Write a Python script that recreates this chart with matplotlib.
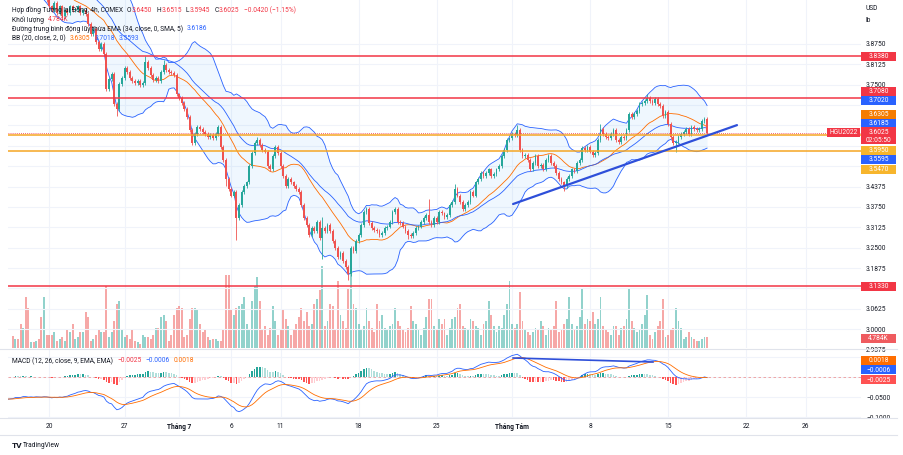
import numpy as np
import pandas as pd
import matplotlib
matplotlib.use("Agg")
import matplotlib.pyplot as plt
from matplotlib.patches import Rectangle
from matplotlib.lines import Line2D
from matplotlib.transforms import blended_transform_factory, Bbox, TransformedBbox

plt.rcParams['font.family'] = ['Roboto', 'DejaVu Sans']

# bars before 20 Jun, off-screen, only used to seed EMA / BB / MACD
warmup_close = [4.40, 4.41, 4.38, 4.36, 4.37, 4.33, 4.30, 4.31, 4.28, 4.26,
                4.27, 4.24, 4.22, 4.23, 4.25, 4.21, 4.19, 4.20, 4.17, 4.15,
                4.16, 4.18, 4.15, 4.13, 4.14, 4.12, 4.10, 4.11, 4.13, 4.11]

# HGU2022 4h closes
close = [
    4.10, 4.12, 4.09, 4.08, 4.10, 4.07, 4.05, 4.06, 4.04, 4.05, 4.03, 4.02, 4.03, 4.01,
    3.99, 3.98, 4.00, 3.97, 3.99, 3.96, 3.98, 3.97, 3.99, 3.98,
    3.98, 3.99, 3.97, 3.98,
    3.966, 3.935, 3.905, 3.92, 3.88, 3.86,
    3.875, 3.845,
    3.737,
    3.767, 3.783, 3.69, 3.675, 3.752,
    3.77, 3.80, 3.79, 3.77, 3.76, 3.755, 3.76, 3.75, 3.755, 3.82, 3.80,
    3.78, 3.765, 3.77, 3.76, 3.79, 3.81, 3.795, 3.79, 3.785, 3.78,
    3.72, 3.71, 3.695, 3.675, 3.65, 3.61,
    3.57, 3.60, 3.62, 3.615, 3.605, 3.60, 3.59, 3.595, 3.585, 3.60, 3.62,
    3.56, 3.52, 3.46, 3.43, 3.41, 3.42, 3.34, 3.38, 3.42, 3.44,
    3.45, 3.50, 3.54, 3.57, 3.58, 3.565,
    3.55, 3.545, 3.50, 3.49, 3.53, 3.56, 3.54, 3.50, 3.47,
    3.44, 3.46, 3.45, 3.44, 3.43, 3.42,
    3.38, 3.34, 3.32, 3.29, 3.31, 3.30, 3.33,
    3.28, 3.31, 3.30, 3.32, 3.30, 3.27,
    3.25, 3.22, 3.235, 3.21, 3.19, 3.17,
    3.25, 3.24, 3.27, 3.29, 3.32, 3.36,
    3.37, 3.325, 3.31, 3.305, 3.30, 3.29, 3.295, 3.31, 3.315, 3.33, 3.36, 3.37,
    3.33, 3.325, 3.315, 3.30, 3.29, 3.285, 3.295, 3.31, 3.315,
    3.33, 3.34, 3.35, 3.33, 3.32, 3.34, 3.33, 3.36, 3.355,
    3.345, 3.35, 3.38, 3.39, 3.43, 3.41, 3.39, 3.37, 3.38, 3.39,
    3.42, 3.41, 3.45, 3.46, 3.48, 3.47,
    3.48, 3.49, 3.47, 3.475, 3.49, 3.50, 3.53, 3.55, 3.58, 3.585,
    3.60, 3.595, 3.61, 3.55, 3.53, 3.535, 3.52,
    3.49, 3.51, 3.53, 3.50, 3.505, 3.49, 3.52, 3.53, 3.51, 3.50, 3.48,
    3.46, 3.45, 3.44, 3.46, 3.47, 3.49, 3.485, 3.51,
    3.52, 3.555, 3.55, 3.56, 3.545, 3.535, 3.54, 3.58, 3.615, 3.60,
    3.59, 3.585, 3.60, 3.61, 3.58, 3.575, 3.59, 3.585, 3.61, 3.66,
    3.65, 3.66, 3.67, 3.69, 3.695, 3.70, 3.71, 3.70, 3.695, 3.705, 3.69,
    3.685, 3.655, 3.665, 3.63, 3.59, 3.57, 3.575, 3.59,
    3.60, 3.605, 3.615, 3.60, 3.62, 3.615, 3.61, 3.615, 3.64, 3.645, 3.6025,
]

# volume, thousand contracts
volume_k = [
    5.5, 4, 4, 11, 9, 23, 18, 2.5, 2.5, 3, 4, 14, 23, 6,
    6, 6, 7, 3, 4, 5, 3, 8, 7, 11,
    4, 5, 7, 7,
    16, 14, 3, 4, 6, 8,
    7, 7,
    28,
    5, 7, 12, 20, 21,
    8, 5, 6, 4, 8, 3, 2.5, 2, 6, 5, 5,
    4, 6, 9, 9, 14, 15, 12, 3, 6, 15,
    18, 19, 18, 5, 6, 13,
    18, 18, 17, 11, 7, 8, 5, 3.5, 4, 4, 3,
    3, 8, 33, 33, 17, 15, 18, 19, 20, 23,
    11, 8, 21, 28, 32, 21,
    8, 10, 6, 9, 19, 12, 6, 8, 17,
    13, 10, 6, 8, 11, 14,
    18, 12, 16, 10, 11, 20, 22,
    26, 37, 10, 12, 20, 19,
    8, 30, 15, 12, 9, 27,
    34, 20, 18, 11, 8, 10,
    18, 12, 9, 7, 20, 12, 15, 9, 8, 10, 11, 18,
    12, 10, 8, 7, 9, 19, 12, 11, 8,
    6, 9, 14, 22, 22, 10, 8, 13, 11,
    13, 6, 9, 13, 14, 18, 20, 10, 9, 8,
    13, 12, 10, 9, 6, 11,
    12, 21, 15, 10, 7, 10, 9, 15, 20, 30,
    11, 9, 11, 25, 12, 8, 7,
    6, 7, 9, 8, 12, 10, 6, 9, 8, 10, 21,
    7, 8, 11, 13, 23, 11, 8, 10,
    14, 27, 11, 13, 12, 16, 11, 13, 23, 10,
    8, 7, 6, 10, 10, 6, 9, 10, 13, 27,
    12, 9, 7, 8, 11, 15, 24, 6, 4, 7, 10,
    12, 22, 5, 6, 8, 9, 18, 12,
    9, 4, 5, 7, 5, 4, 3, 3, 4, 5, 4.784,
]

# long wicks that stand out
high_wick = {51: 3.838, 58: 3.825, 94: 3.59, 119: 3.345, 130: 3.255, 160: 3.40,
             170: 3.445, 194: 3.625, 226: 3.63, 244: 3.72, 267: 3.6515}
low_wick = {40: 3.655, 82: 3.44, 86: 3.275, 119: 3.215, 129: 3.152, 152: 3.278,
            212: 3.425, 255: 3.545, 267: 3.5945}

levels_red = [3.8380, 3.7080, 3.1330]
levels_yellow = [3.5950, 3.5470]
last_price = 3.6025
trend_bars = [192.4, 278.5]
trend_prices = [3.384, 3.626]
macd_trend_bars = [192.4, 246.2]
macd_trend_vals = [0.0475, 0.0375]

tick_bars = [14, 43, 64, 84, 103, 133, 163, 192, 222, 252, 282, 305]
tick_labels = ['20', '27', 'Tháng 7', '6', '11', '18', '25', 'Tháng Tám', '8', '15', '22', '26']
bold_ticks = ['Tháng 7', 'Tháng Tám']
price_grid = [2.9375, 3.0, 3.0625, 3.125, 3.1875, 3.25, 3.3125, 3.375, 3.4375,
              3.5, 3.5625, 3.625, 3.6875, 3.75, 3.8125, 3.875]
# labels the price tags leave visible
price_labels = [2.9375, 3.0, 3.0625, 3.1875, 3.25, 3.3125, 3.375, 3.4375,
                3.75, 3.8125, 3.875]
macd_grid = [0.05, 0.0, -0.05, -0.1]
macd_labels = [-0.05, -0.1]

assert len(close) == len(volume_k) == 268

UP, DOWN = '#26a69a', '#ef5350'
DARK, RED, BLUE, ORANGE, YELLOW = '#131722', '#f23645', '#2962ff', '#ff6d00', '#f5a623'
GRID = '#f0f3fa'

# indicators
full = pd.Series(warmup_close + close, dtype=float)
nw = len(warmup_close)
xs = np.arange(-nw, len(close))
basis = full.rolling(20).mean()
dev = full.rolling(20).std(ddof=0)
upper, lower = basis + 2 * dev, basis - 2 * dev
ema34 = full.ewm(span=34, adjust=False).mean()
macd = full.ewm(span=12, adjust=False).mean() - full.ewm(span=26, adjust=False).mean()
signal = macd.ewm(span=9, adjust=False).mean()
hist = macd - signal

W, H = 904, 456


def fr(x0, y0, x1, y1):
    return [x0 / W, 1 - y1 / H, (x1 - x0) / W, (y1 - y0) / H]


fig = plt.figure(figsize=(W / 100, H / 100), dpi=100)
fig.patch.set_facecolor('white')
ax = fig.add_axes(fr(8, 0, 861, 349))
axv = ax.twinx()
ax2 = fig.add_axes(fr(8, 351, 861, 419))

XL = (-1.85, 326.2)
for a in (ax, axv, ax2):
    a.set_xlim(*XL)
    for s in a.spines.values():
        s.set_visible(False)
    a.set_xticks([])
    a.set_yticks([])
ax.set_ylim(2.9423, 4.0129)
ax2.set_ylim(-0.1025, 0.0675)
axv.set_ylim(0, 157)
ax.set_zorder(axv.get_zorder() + 1)
ax.patch.set_visible(False)

# grid
for p in price_grid:
    ax.axhline(p, color=GRID, lw=0.8, zorder=0)
for m in macd_grid:
    ax2.axhline(m, color=GRID, lw=0.8, zorder=0)
for tb in tick_bars:
    axv.axvline(tb, color=GRID, lw=0.8, zorder=0)
    ax2.axvline(tb, color=GRID, lw=0.8, zorder=0)

# Bollinger bands + EMA
ax.fill_between(xs, lower, upper, color='#2196f3', alpha=0.07, lw=0, zorder=1)
ax.plot(xs, upper, color=BLUE, lw=0.6, zorder=2)
ax.plot(xs, lower, color=BLUE, lw=0.6, zorder=2)
ax.plot(xs, basis, color=ORANGE, lw=0.6, zorder=2)
ax.plot(xs, ema34, color=BLUE, lw=0.6, zorder=2)

# candles and volume
vals = full.values
for i, c in enumerate(close):
    o = vals[nw + i - 1]
    col = UP if c >= o else DOWN
    hi = high_wick.get(i, max(o, c) + 0.006)
    lo = low_wick.get(i, min(o, c) - 0.006)
    ax.vlines(i, lo, hi, color=col, lw=0.6, zorder=3)
    ax.bar(i, max(abs(c - o), 0.002), bottom=min(o, c), width=0.72, color=col, lw=0, zorder=3)
    axv.bar(i, volume_k[i], width=0.72, color=col, alpha=0.5, lw=0)

# levels and drawings
for lv in levels_red:
    ax.axhline(lv, color=RED, lw=1.1, zorder=4)
for lv in levels_yellow:
    ax.axhline(lv, color=YELLOW, lw=1.1, zorder=4)
ax.axhline(last_price, color=RED, lw=0.6, ls=(0, (1, 1.5)), zorder=4)
ax.plot(trend_bars, trend_prices, color='#2e4fd9', lw=1.6, zorder=5, solid_capstyle='round')

# MACD pane
h = hist.values
hcols = []
for k in range(len(h)):
    prev = h[k - 1] if k > 0 else h[k]
    if h[k] >= 0:
        hcols.append('#26a69a' if h[k] >= prev else '#b2dfdb')
    else:
        hcols.append('#ffcdd2' if h[k] >= prev else '#ff5252')
ax2.bar(xs, h, width=0.6, color=hcols, lw=0, zorder=2)
ax2.plot(xs, macd, color=BLUE, lw=0.6, zorder=3)
ax2.plot(xs, signal, color=ORANGE, lw=0.6, zorder=3)
ax2.axhline(h[-1], color='#ef9a9a', lw=0.6, ls=(0, (3, 3)), zorder=1)
ax2.plot(macd_trend_bars, macd_trend_vals, color='#2e4fd9', lw=1.2, zorder=4)

# right scale labels
tr = blended_transform_factory(ax.transAxes, ax.transData)
xr = (866 - 8) / 853
for p in price_labels:
    ax.text(xr, p, f'{p:.4f}', transform=tr, ha='left', va='center', fontsize=4.8,
            color=DARK, clip_on=False)
tr2 = blended_transform_factory(ax2.transAxes, ax2.transData)
clip = TransformedBbox(Bbox([[0, 1 - 419 / H], [1, 1]]), fig.transFigure)
for m in macd_labels:
    t = ax2.text(xr, m, f'{m:.4f}'.replace('-', '−'), transform=tr2, ha='left', va='center',
                 fontsize=4.8, color=DARK)
    t.set_clip_box(clip)
    t.set_clip_on(True)

# time labels
trx = blended_transform_factory(ax2.transData, ax2.transAxes)
for tb, lab in zip(tick_bars, tick_labels):
    ax2.text(tb, -8 / 68, lab, transform=trx, ha='center', va='center', fontsize=4.8,
             color=DARK, fontweight='bold' if lab in bold_ticks else 'normal', clip_on=False)


# price tags on the scale
def tag(yc, text, color, x0=861, w=35, hgt=9, tc='white'):
    fig.add_artist(Rectangle((x0 / W, 1 - (yc + hgt / 2) / H), w / W, hgt / H,
                             transform=fig.transFigure, facecolor=color, edgecolor='none', zorder=5))
    fig.text((x0 + w / 2) / W, 1 - yc / H, text, ha='center', va='center', fontsize=4.8,
             color=tc, zorder=6)


tag(57, '3.8380', RED)
tag(92, '3.7080', RED)
tag(101, '3.7020', BLUE)
tag(115, '3.6305', '#f57c00')
tag(124, '3.6185', BLUE)
tag(136.5, '', RED, hgt=17)
fig.text(878.5 / W, 1 - 133 / H, '3.6025', ha='center', va='center', fontsize=4.8, color='white', zorder=6)
fig.text(878.5 / W, 1 - 141 / H, '02:05:50', ha='center', va='center', fontsize=4.8, color='white', zorder=6)
tag(133, 'HGU2022', RED, x0=827, w=33)
tag(151, '3.5950', '#f7b52c')
tag(160, '3.5595', BLUE)
tag(170, '3.5470', '#f7b52c')
tag(287, '3.1330', RED)
tag(339, '4.784K', '#ef5b5f')
tag(361, '0.0018', ORANGE)
tag(370.5, '−0.0006', BLUE)
tag(380, '−0.0025', '#ff5252')

fig.text(866 / W, 1 - 8 / H, 'USD', fontsize=4.8, color=DARK, va='center', ha='left')
fig.text(866 / W, 1 - 20 / H, 'lb', fontsize=4.8, color=DARK, va='center', ha='left')

# separators
for yy in (350, 419, 436):
    fig.add_artist(Line2D([0, 897 / W], [1 - yy / H] * 2, transform=fig.transFigure,
                          color='#e0e3eb', lw=0.8))


# legends
def text_run(x_px, y_px, pieces, size=4.8):
    r = fig.canvas.get_renderer()
    x = x_px
    for s, col, gap in pieces:
        x += gap
        t = fig.text(x / W, 1 - y_px / H, s, color=col, fontsize=size, ha='left',
                     va='center', zorder=6)
        x += t.get_window_extent(r).width


text_run(12, 10, [('Hợp đồng Tương lai Đồng, 4h, COMEX', DARK, 0),
                  ('O', DARK, 4), ('3.6450', RED, 0.5), ('H', DARK, 4), ('3.6515', RED, 0.5),
                  ('L', DARK, 4), ('3.5945', RED, 0.5), ('C', DARK, 4), ('3.6025', RED, 0.5),
                  ('−0.0420 (−1.15%)', RED, 4)])
text_run(12, 19.5, [('Khối lượng', DARK, 0), ('4.784K', RED, 4)])
text_run(12, 29, [('Đường trung bình động lũy thừa EMA (34, close, 0, SMA, 5)', DARK, 0),
                  ('3.6186', BLUE, 4)])
text_run(12, 38.5, [('BB (20, close, 2, 0)', DARK, 0), ('3.6305', ORANGE, 4),
                    ('3.7018', BLUE, 4), ('3.5593', BLUE, 4)])
text_run(12, 361, [('MACD (12, 26, close, 9, EMA, EMA)', DARK, 0), ('−0.0025', RED, 4),
                   ('−0.0006', BLUE, 4), ('0.0018', ORANGE, 4)])

fig.text(12 / W, 1 - 446 / H, 'TV', fontsize=6, fontweight='bold', color=DARK, va='center')
fig.text(23 / W, 1 - 446 / H, 'TradingView', fontsize=4.8, color=DARK, va='center')

fig.savefig('out.png', dpi=100)
